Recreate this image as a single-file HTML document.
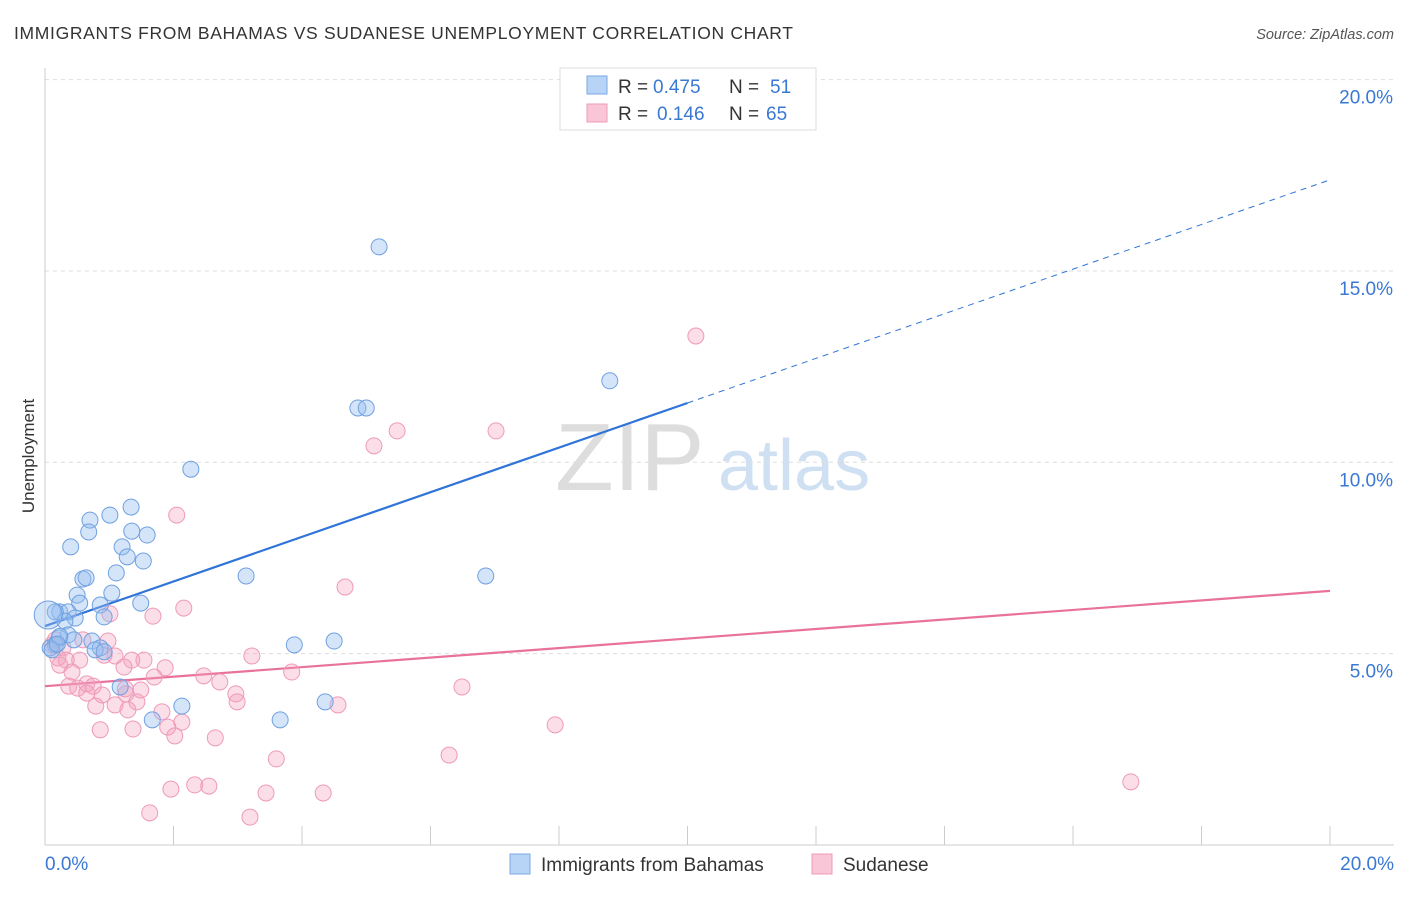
<!DOCTYPE html>
<html><head><meta charset="utf-8"><style>
body{margin:0;background:#fff;font-family:"Liberation Sans",sans-serif;}
svg text{font-family:"Liberation Sans",sans-serif;}
</style></head><body>
<svg id="chart" width="1406" height="892" xmlns="http://www.w3.org/2000/svg">
<text x="14" y="39" font-size="17.5" fill="#333" textLength="779" lengthAdjust="spacing">IMMIGRANTS FROM BAHAMAS VS SUDANESE UNEMPLOYMENT CORRELATION CHART</text>
<text x="1394" y="39" font-size="14.5" fill="#555" text-anchor="end" font-style="italic">Source: ZipAtlas.com</text>
<g>
<text x="555" y="490" font-size="96" fill="#ddd" font-family="Liberation Serif, serif">ZIP</text>
<text x="718" y="490" font-size="72" fill="#cfe0f3">atlas</text>
</g>
<g id="grid"></g>
<g id="axes"></g>
<g id="lines"></g>
<g id="points"></g>
<text transform="translate(34,456) rotate(-90)" font-size="17" fill="#333" text-anchor="middle">Unemployment</text>
<g>
<rect x="560" y="68" width="256" height="62" fill="#fff" stroke="#ddd"/>
<rect x="587" y="76" width="20" height="18" fill="#b7d3f5" stroke="#7aa9e6"/>
<rect x="587" y="104" width="20" height="18" fill="#f9c6d7" stroke="#ef9ab8"/>
<text x="618" y="93" font-size="19" fill="#333">R =</text>
<text x="653" y="93" font-size="19" fill="#3a78d4">0.475</text>
<text x="729" y="93" font-size="19" fill="#333">N =</text>
<text x="770" y="93" font-size="19" fill="#3a78d4">51</text>
<text x="618" y="120" font-size="19" fill="#333">R =</text>
<text x="657" y="120" font-size="19" fill="#3a78d4">0.146</text>
<text x="729" y="120" font-size="19" fill="#333">N =</text>
<text x="766" y="120" font-size="19" fill="#3a78d4">65</text>
</g>
<g>
<rect x="510" y="854" width="20" height="20" fill="#b7d3f5" stroke="#7aa9e6"/>
<text x="541" y="871" font-size="19" fill="#333">Immigrants from Bahamas</text>
<rect x="812" y="854" width="20" height="20" fill="#f9c6d7" stroke="#ef9ab8"/>
<text x="843" y="871" font-size="19" fill="#333">Sudanese</text>
</g>
</svg>
<script>
const xTicks=[0,2,4,6,8,10,12,14,16,18,20];
const yTicks=[5,10,15,20];
const yTickLabels=["5.0%","10.0%","15.0%","20.0%"];
const xEndLabels=["0.0%","20.0%"];
const bahamasX=[5.20,8.79,4.87,5.00,2.27,1.34,1.01,0.70,1.35,0.68,1.59,0.40,1.20,1.28,1.53,1.11,3.13,6.86,0.59,0.64,1.04,0.50,0.54,1.49,0.86,0.23,0.36,0.16,0.92,0.47,0.31,3.88,4.50,0.36,0.22,0.73,0.45,0.86,0.78,0.16,0.08,0.11,1.17,2.13,4.36,1.67,3.66,0.05,0.23,0.19,0.92];
const bahamasY=[15.63,12.13,11.42,11.42,9.82,8.83,8.62,8.49,8.20,8.18,8.10,7.79,7.79,7.53,7.42,7.11,7.03,7.03,6.95,6.98,6.58,6.53,6.32,6.32,6.27,6.09,6.09,6.09,5.96,5.93,5.85,5.23,5.33,5.49,5.41,5.33,5.36,5.15,5.10,5.23,5.15,5.10,4.13,3.63,3.74,3.27,3.27,6.01,5.45,5.25,5.05];
const sudaneseX=[10.13,5.48,7.02,5.12,2.05,4.67,2.16,1.68,1.01,0.59,0.98,0.16,0.11,0.28,0.92,1.09,1.54,1.35,0.33,0.54,0.20,0.23,3.22,1.23,1.87,0.42,2.47,3.84,1.70,2.72,0.65,0.37,0.51,0.75,1.25,1.49,6.49,0.89,1.26,2.97,0.65,2.99,1.43,1.09,0.79,4.56,1.82,1.29,2.13,1.91,7.94,0.86,1.37,2.02,2.65,6.29,3.60,1.96,2.33,2.55,3.44,4.33,1.63,3.19,16.90];
const sudaneseY=[13.30,10.82,10.82,10.43,8.62,6.74,6.19,5.98,6.04,5.36,5.33,5.36,5.23,5.15,4.96,4.94,4.83,4.83,4.83,4.83,4.89,4.70,4.94,4.65,4.63,4.52,4.42,4.52,4.39,4.26,4.21,4.15,4.10,4.15,4.08,4.05,4.13,3.92,3.95,3.95,3.97,3.74,3.74,3.66,3.63,3.66,3.48,3.53,3.21,3.08,3.14,3.01,3.03,2.85,2.80,2.35,2.25,1.46,1.57,1.54,1.36,1.36,0.84,0.73,1.65];
const bahamasTrend=[5.72,17.38];
const sudaneseTrend=[4.15,6.64];
const NS="http://www.w3.org/2000/svg";
const X=v=>45+v*64.25;
const Y=v=>845-v*38.27;
function mk(tag,attrs,parent){const e=document.createElementNS(NS,tag);for(const k in attrs)e.setAttribute(k,attrs[k]);document.getElementById(parent).appendChild(e);return e;}
yTicks.forEach((t,i)=>{
 const g=mk('line',{x1:45,x2:1394,y1:Y(t),y2:Y(t),stroke:'#ddd','stroke-dasharray':'4,4'},'grid');
 
 
 const l=mk('text',{x:1393,y:Y(t)+24,'font-size':19,fill:'#3a78d4','text-anchor':'end'},'axes');
 l.textContent=yTickLabels[i];
 
 
});
const ax=mk('line',{x1:45,x2:45,y1:68,y2:845,stroke:'#ccc'},'axes');


const bx=mk('line',{x1:45,x2:1394,y1:845,y2:845,stroke:'#ccc'},'axes');


xTicks.forEach(t=>{
 const e=mk('line',{x1:X(t),x2:X(t),y1:826,y2:845,stroke:'#ccc'},'axes');
 
 
});
const xl0=mk('text',{x:45,y:870,'font-size':19,fill:'#3a78d4'},'axes');xl0.textContent=xEndLabels[0];


const xl1=mk('text',{x:1394,y:870,'font-size':19,fill:'#3a78d4','text-anchor':'end'},'axes');xl1.textContent=xEndLabels[1];


const bEnd=10, slopeB=(bahamasTrend[1]-bahamasTrend[0])/20;
const t1=mk('line',{x1:X(0),y1:Y(bahamasTrend[0]),x2:X(bEnd),y2:Y(bahamasTrend[0]+slopeB*bEnd),stroke:'#2f74d8','stroke-width':2.2},'lines');


const t2=mk('line',{x1:X(bEnd),y1:Y(bahamasTrend[0]+slopeB*bEnd),x2:X(20),y2:Y(bahamasTrend[1]),stroke:'#2f74d8','stroke-width':1,'stroke-dasharray':'6,5'},'lines');


const t3=mk('line',{x1:X(0),y1:Y(sudaneseTrend[0]),x2:X(20),y2:Y(sudaneseTrend[1]),stroke:'#e8729c','stroke-width':2.2},'lines');


sudaneseX.forEach((v,i)=>{
 const c=mk('circle',{cx:X(v),cy:Y(sudaneseY[i]),r:8,fill:'rgba(244,160,190,0.35)',stroke:'#ee9ab8','stroke-width':1},'points');
 
 
});
bahamasX.forEach((v,i)=>{
 const c=mk('circle',{cx:X(v),cy:Y(bahamasY[i]),r:i==47?14:8,fill:'rgba(150,190,240,0.4)',stroke:'#6fa0e0','stroke-width':1},'points');
 
 
});
</script>
</body></html>
